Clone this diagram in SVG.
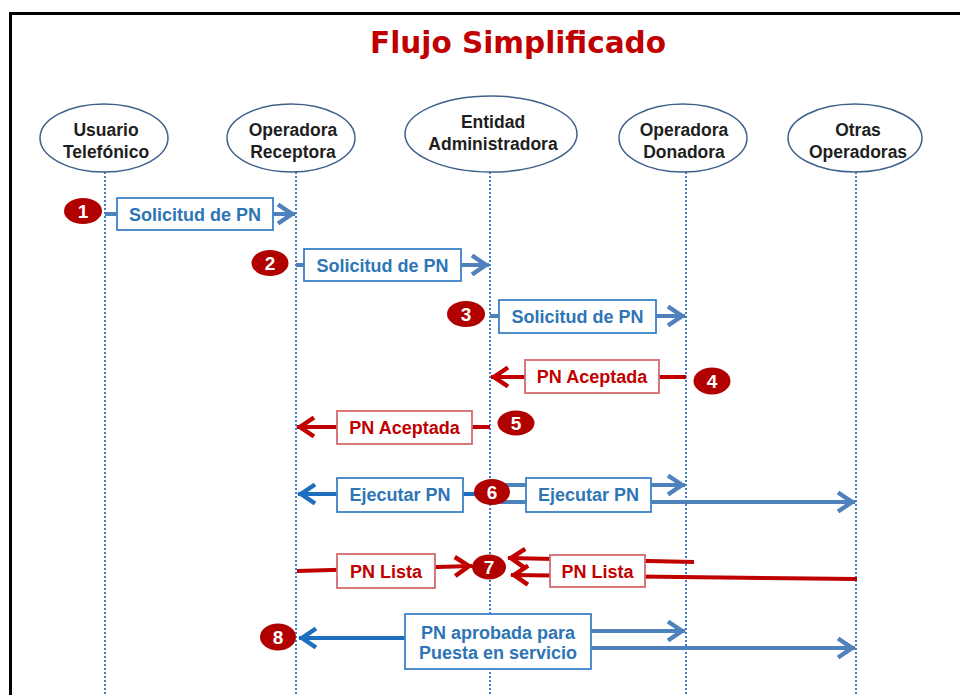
<svg xmlns="http://www.w3.org/2000/svg" width="960" height="695" viewBox="0 0 960 695">
<style>
.frame{fill:none;stroke:#000;stroke-width:3}
.title{font-family:"DejaVu Sans",Verdana,sans-serif;font-weight:bold;font-size:29.5px;fill:#C00000;text-anchor:middle}
.actor{fill:#fff;stroke:#40608C;stroke-width:1.5}
.atext{font-family:"Liberation Sans",Arial,sans-serif;font-weight:bold;font-size:17.5px;fill:#1e1e1e;text-anchor:middle}
.life{stroke:#3D7EC7;stroke-width:2;stroke-dasharray:2 2;fill:none}
.bl{stroke:#4F81BD;stroke-width:4;fill:none}
.db{stroke:#1F6FC0;stroke-width:4;fill:none}
.rd{stroke:#C00000;stroke-width:4;fill:none}
.bbox{fill:#fff;stroke:#3C82C8;stroke-width:1.8}
.rbox{fill:#fff;stroke:#D46A6A;stroke-width:1.8}
.btxt{font-family:"Liberation Sans",Arial,sans-serif;font-weight:bold;font-size:18px;fill:#2E75B6;text-anchor:middle}
.rtxt{font-family:"Liberation Sans",Arial,sans-serif;font-weight:bold;font-size:18px;fill:#C00000;text-anchor:middle}
.badge{fill:#B00000}
.num{font-family:"Liberation Sans",Arial,sans-serif;font-weight:bold;font-size:19px;fill:#fff;text-anchor:middle}
</style>
<defs>
<marker id="aB" viewBox="-22 -13 26 26" markerWidth="26" markerHeight="26" refX="0" refY="0" orient="auto" markerUnits="userSpaceOnUse"><path d="M-17,-9.5 L-3,0 L-17,9.5" fill="none" stroke="#4F81BD" stroke-width="4.5"/></marker>
<marker id="aD" viewBox="-22 -13 26 26" markerWidth="26" markerHeight="26" refX="0" refY="0" orient="auto" markerUnits="userSpaceOnUse"><path d="M-17,-9.5 L-3,0 L-17,9.5" fill="none" stroke="#1F6FC0" stroke-width="4.5"/></marker>
<marker id="aR" viewBox="-22 -13 26 26" markerWidth="26" markerHeight="26" refX="0" refY="0" orient="auto" markerUnits="userSpaceOnUse"><path d="M-17,-9.5 L-3,0 L-17,9.5" fill="none" stroke="#C00000" stroke-width="4.5"/></marker>
</defs>
<rect class="frame" x="10.5" y="13.5" width="1000" height="1000"/>
<text class="title" x="518" y="53">Flujo Simplificado</text>

<g id="lifelines">
<line class="life" x1="105" y1="172" x2="105" y2="695"/>
<line class="life" x1="296" y1="172" x2="296" y2="695"/>
<line class="life" x1="490" y1="172" x2="490" y2="695"/>
<line class="life" x1="686" y1="172" x2="686" y2="695"/>
<line class="life" x1="856" y1="172" x2="856" y2="695"/>
</g>

<g id="actor-usuario">
<ellipse class="actor" cx="104" cy="138" rx="64" ry="34"/>
<text class="atext" x="106" y="136">Usuario</text>
<text class="atext" x="106" y="158">Telefónico</text>
</g>
<g id="actor-receptora">
<ellipse class="actor" cx="291" cy="138" rx="64" ry="34"/>
<text class="atext" x="293" y="136">Operadora</text>
<text class="atext" x="293" y="158">Receptora</text>
</g>
<g id="actor-entidad">
<ellipse class="actor" cx="491" cy="134" rx="86" ry="38"/>
<text class="atext" x="493" y="128">Entidad</text>
<text class="atext" x="493" y="150">Administradora</text>
</g>
<g id="actor-donadora">
<ellipse class="actor" cx="683" cy="138" rx="64" ry="34"/>
<text class="atext" x="684" y="136">Operadora</text>
<text class="atext" x="684" y="158">Donadora</text>
</g>
<g id="actor-otras">
<ellipse class="actor" cx="855" cy="138" rx="67" ry="34"/>
<text class="atext" x="858" y="136">Otras</text>
<text class="atext" x="858" y="158">Operadoras</text>
</g>

<g id="connectors">
<line class="bl" x1="105" y1="214" x2="295" y2="214" marker-end="url(#aB)"/>
<line class="bl" x1="296" y1="265" x2="489" y2="265" marker-end="url(#aB)"/>
<line class="bl" x1="490" y1="316" x2="685" y2="316" marker-end="url(#aB)"/>
<line class="rd" x1="686" y1="377" x2="491" y2="377" marker-end="url(#aR)"/>
<line class="rd" x1="490" y1="427" x2="297" y2="427" marker-end="url(#aR)"/>
<line class="db" x1="478" y1="494" x2="298" y2="494" marker-end="url(#aD)"/>
<line class="bl" x1="500" y1="485" x2="685" y2="485" marker-end="url(#aB)"/>
<line class="bl" x1="500" y1="502" x2="855" y2="502" marker-end="url(#aB)"/>
<line class="rd" x1="297" y1="571" x2="472" y2="566" marker-end="url(#aR)"/>
<line class="rd" x1="694" y1="562" x2="508" y2="558" marker-end="url(#aR)"/>
<line class="rd" x1="857" y1="579" x2="511" y2="575" marker-end="url(#aR)"/>
<line class="db" x1="405" y1="638" x2="299" y2="638" marker-end="url(#aD)"/>
<line class="bl" x1="591" y1="631" x2="685" y2="631" marker-end="url(#aB)"/>
<line class="bl" x1="591" y1="648" x2="855" y2="648" marker-end="url(#aB)"/>
</g>

<g id="msg1">
<rect class="bbox" x="117" y="198" width="156" height="32"/>
<text class="btxt" x="195" y="220.5">Solicitud de PN</text>
<ellipse class="badge" cx="83" cy="211" rx="19" ry="13"/>
<text class="num" x="83" y="218">1</text>
</g>
<g id="msg2">
<rect class="bbox" x="304" y="249" width="157" height="32"/>
<text class="btxt" x="382.5" y="271.5">Solicitud de PN</text>
<ellipse class="badge" cx="270" cy="263" rx="18.5" ry="13"/>
<text class="num" x="270" y="270">2</text>
</g>
<g id="msg3">
<rect class="bbox" x="499" y="300" width="157" height="33"/>
<text class="btxt" x="577.5" y="322.5">Solicitud de PN</text>
<ellipse class="badge" cx="466" cy="314" rx="19" ry="13"/>
<text class="num" x="466" y="321">3</text>
</g>
<g id="msg4">
<rect class="rbox" x="525" y="360" width="134" height="33"/>
<text class="rtxt" x="592" y="383">PN Aceptada</text>
<ellipse class="badge" cx="712" cy="381" rx="18.5" ry="13.5"/>
<text class="num" x="712" y="388">4</text>
</g>
<g id="msg5">
<rect class="rbox" x="337" y="411" width="135" height="33"/>
<text class="rtxt" x="404.5" y="433.5">PN Aceptada</text>
<ellipse class="badge" cx="516" cy="423" rx="18.5" ry="12.5"/>
<text class="num" x="516" y="430">5</text>
</g>
<g id="msg6">
<rect class="bbox" x="337" y="478" width="126" height="34"/>
<text class="btxt" x="400" y="501">Ejecutar PN</text>
<rect class="bbox" x="526" y="478" width="125" height="34"/>
<text class="btxt" x="588.5" y="501">Ejecutar PN</text>
<ellipse class="badge" cx="492" cy="492" rx="18" ry="13"/>
<text class="num" x="492" y="499">6</text>
</g>
<g id="msg7">
<rect class="rbox" x="337" y="554" width="98" height="34"/>
<text class="rtxt" x="386" y="577.5">PN Lista</text>
<rect class="rbox" x="550" y="555" width="95" height="32"/>
<text class="rtxt" x="597.5" y="577.5">PN Lista</text>
<ellipse class="badge" cx="489" cy="567" rx="17" ry="12.5"/>
<text class="num" x="489" y="574">7</text>
</g>
<g id="msg8">
<rect class="bbox" x="405" y="614" width="186" height="55"/>
<text class="btxt" x="498" y="639">PN aprobada para</text>
<text class="btxt" x="498" y="659">Puesta en servicio</text>
<ellipse class="badge" cx="278" cy="637" rx="18" ry="13.5"/>
<text class="num" x="278" y="644">8</text>
</g>
</svg>
